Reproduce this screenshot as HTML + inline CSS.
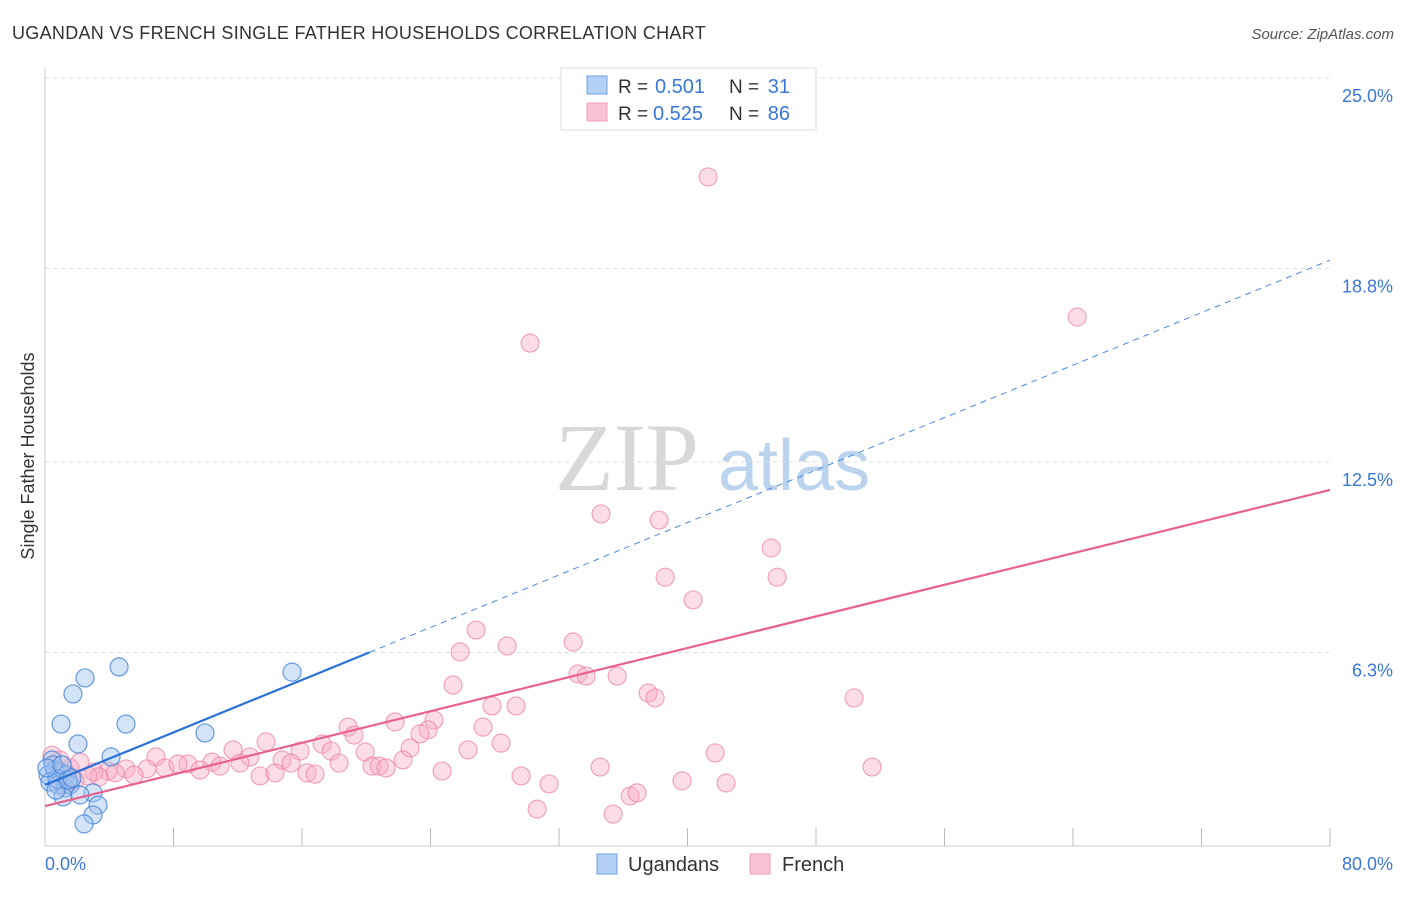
<!DOCTYPE html>
<html><head><meta charset="utf-8"><style>
body{margin:0;background:#fff;font-family:"Liberation Sans",sans-serif;}
</style></head><body>
<svg width="1406" height="892" xmlns="http://www.w3.org/2000/svg" font-family="Liberation Sans, sans-serif">
<text x="12" y="39" font-size="18" fill="#333" letter-spacing="0.3" textLength="694" lengthAdjust="spacingAndGlyphs">UGANDAN VS FRENCH SINGLE FATHER HOUSEHOLDS CORRELATION CHART</text>
<text x="1394" y="39" font-size="15" fill="#555" text-anchor="end" font-style="italic">Source: ZipAtlas.com</text>
<g>
<text x="555" y="490" font-size="96" font-family="Liberation Serif, serif" fill="#d8d8d8">ZIP</text>
<text x="718" y="490" font-size="72" fill="#bcd3ee">atlas</text>
</g>
<g id="grid"></g>
<g id="axes"></g>
<g id="marks"></g>
<text transform="translate(34,456) rotate(-90)" font-size="18" fill="#333" text-anchor="middle">Single Father Households</text>
<g>
<rect x="561" y="68" width="255" height="62" fill="#fff" stroke="#ddd"/>
<rect x="587" y="76" width="20" height="18" fill="#b5d0f5" stroke="#6a9fe0"/>
<rect x="587" y="103" width="20" height="18" fill="#fbc4d4" stroke="#f0a0b8"/>
<text x="618" y="93" font-size="19" fill="#333">R =</text>
<text x="655" y="93" font-size="20" fill="#3a78d8">0.501</text>
<text x="729" y="93" font-size="19" fill="#333">N =</text>
<text x="790" y="93" font-size="20" fill="#3a78d8" text-anchor="end">31</text>
<text x="618" y="120" font-size="19" fill="#333">R =</text>
<text x="653" y="120" font-size="20" fill="#3a78d8">0.525</text>
<text x="729" y="120" font-size="19" fill="#333">N =</text>
<text x="790" y="120" font-size="20" fill="#3a78d8" text-anchor="end">86</text>
</g>
<g>
<rect x="597" y="854" width="20" height="20" fill="#b5d0f5" stroke="#6a9fe0"/>
<text x="628" y="871" font-size="20" fill="#333">Ugandans</text>
<rect x="750" y="854" width="20" height="20" fill="#fbc4d4" stroke="#f0a0b8"/>
<text x="782" y="871" font-size="20" fill="#333">French</text>
</g>
</svg>
<script>
const yTicks=[6.3,12.5,18.8,25.0];
const yTickLabels=["6.3%","12.5%","18.8%","25.0%"];
const xTickLabels=["0.0%","80.0%"];
const ugX=[4.61,2.49,1.74,1.0,5.04,2.05,9.96,4.11,15.38,0.44,0.62,0.19,0.93,1.31,0.31,0.81,1.25,1.56,1.12,2.99,3.30,2.99,2.43,2.18,0.50,0.75,0.12,1.06,0.68,1.43,1.68];
const ugY=[5.83,5.47,4.95,3.97,3.97,3.32,3.68,2.90,5.66,2.80,2.47,2.31,2.41,2.31,2.08,1.99,1.89,1.99,1.60,1.73,1.33,1.01,0.72,1.66,2.64,2.18,2.54,2.64,1.82,2.15,2.21];
const frX=[41.28,64.26,30.20,34.62,38.23,45.21,38.61,45.58,40.35,26.84,32.88,28.77,25.84,33.19,33.69,35.62,25.40,37.55,37.98,50.37,27.83,29.33,24.22,21.79,18.87,23.85,27.27,19.24,23.35,13.76,17.25,28.39,22.73,11.71,15.88,17.81,26.34,41.72,6.91,19.93,8.90,10.40,12.76,14.76,15.32,22.29,18.31,20.36,20.80,21.23,34.56,51.49,5.04,6.35,7.47,8.28,9.65,10.90,12.14,3.92,4.36,3.05,5.54,13.39,14.32,16.31,16.81,24.72,29.64,31.38,39.66,42.40,3.36,2.68,1.87,1.12,1.56,0.93,0.44,2.18,0.68,30.64,36.43,36.86,35.37,1.31];
const frY=[21.78,17.22,16.37,10.81,10.61,9.70,8.75,8.75,8.01,7.03,6.64,6.51,6.32,5.60,5.53,5.53,5.24,4.98,4.82,4.82,4.56,4.56,4.10,4.04,3.87,3.78,3.87,3.61,3.65,3.39,3.32,3.35,3.19,3.13,3.09,3.09,3.13,3.03,2.90,3.06,2.67,2.73,2.90,2.80,2.70,2.80,2.70,2.60,2.60,2.54,2.57,2.57,2.51,2.51,2.54,2.67,2.47,2.60,2.70,2.44,2.38,2.41,2.31,2.28,2.38,2.38,2.34,2.44,2.28,2.02,2.12,2.05,2.25,2.28,2.15,1.99,2.54,2.80,2.96,2.73,2.47,1.20,1.63,1.73,1.04,2.31];
const ugLine=[1.99,19.07];
const frLine=[1.30,11.59];
const ugSolidEnd=20.2;

const NS="http://www.w3.org/2000/svg";
const sx=v=>45+v*1285/80;
const sy=v=>846-v*30.72;
function mk(tag,attrs,parent){const e=document.createElementNS(NS,tag);for(const k in attrs)e.setAttribute(k,attrs[k]);document.getElementById(parent).appendChild(e);return e;}
yTicks.forEach((t,i)=>{
 const g=mk('line',{x1:45,x2:1330,y1:sy(t),y2:sy(t),stroke:'#ddd','stroke-dasharray':'4,4'},'grid');
 
 
 const l=mk('text',{x:1393,y:sy(t)+24,'font-size':18,fill:'#3a78d8','text-anchor':'end'},'grid');
 l.textContent=yTickLabels[i];
 
 
});
const ax=mk('line',{x1:45,x2:45,y1:68,y2:846,stroke:'#ccc'},'axes');


const bx=mk('line',{x1:45,x2:1330,y1:846,y2:846,stroke:'#ccc'},'axes');


for(let i=1;i<=10;i++){
 const t=mk('line',{x1:sx(i*8),x2:sx(i*8),y1:828,y2:846,stroke:'#bbb'},'axes');
 
 
}
[[0,'start',45],[80,'end',1393]].forEach((d,i)=>{
 const l=mk('text',{x:d[2],y:870,'font-size':18,fill:'#3a78d8','text-anchor':d[1]},'axes');
 l.textContent=xTickLabels[i];
 
 
});
frX.forEach((x,i)=>{
 const c=mk('circle',{cx:sx(x),cy:sy(frY[i]),r:9,fill:'rgba(248,170,195,0.4)',stroke:'rgba(235,130,165,0.7)','stroke-width':1.2},'marks');
 
 
});
ugX.forEach((x,i)=>{
 const c=mk('circle',{cx:sx(x),cy:sy(ugY[i]),r:9,fill:'rgba(160,195,240,0.45)',stroke:'rgba(70,130,215,0.8)','stroke-width':1.2},'marks');
 
 
});
const ly=(L,x)=>L[0]+(L[1]-L[0])*x/80;
const p1=mk('line',{x1:sx(0),y1:sy(ly(frLine,0)),x2:sx(80),y2:sy(ly(frLine,80)),stroke:'#e8628e','stroke-width':2.2},'marks');


const b1=mk('line',{x1:sx(0),y1:sy(ly(ugLine,0)),x2:sx(ugSolidEnd),y2:sy(ly(ugLine,ugSolidEnd)),stroke:'#2a70d8','stroke-width':2.2},'marks');


const b2=mk('line',{x1:sx(ugSolidEnd),y1:sy(ly(ugLine,ugSolidEnd)),x2:sx(80),y2:sy(ly(ugLine,80)),stroke:'#4a88e0','stroke-width':1,'stroke-dasharray':'6,5'},'marks');


</script>
</body></html>
